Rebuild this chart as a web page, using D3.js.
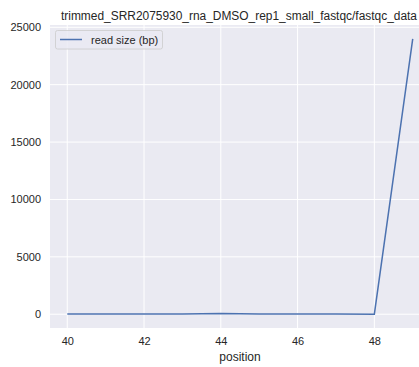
<!DOCTYPE html>
<html>
<head>
<meta charset="utf-8">
<script src="https://cdn.jsdelivr.net/npm/d3@7"></script>
<style>
  body { margin: 0; background: #fff; }
  svg { display: block; font-family: "Liberation Sans", Arial, sans-serif; }
</style>
</head>
<body>
<svg id="canvas"></svg>
<script>
const positions = [40, 41, 42, 43, 44, 45, 46, 47, 48, 49];
const readSize = [10, 12, 15, 25, 70, 20, 12, 10, 8, 24000];
const xTicks = [40, 42, 44, 46, 48];
const yTicks = [0, 5000, 10000, 15000, 20000, 25000];
const TITLE = "trimmed_SRR2075930_rna_DMSO_rep1_small_fastqc/fastqc_data";
const SERIES = "read size (bp)";

const width = 419;
const height = 367;
const paddingLeft = 50;
const plotRight = 430;   // axes run past the window edge, like the reference
const paddingTop = 25;
const plotBottom = 328;

const canvas = d3.select("#canvas")
    .attr("width", width)
    .attr("height", height);

//Scales with matplotlib-like 5% margins
const xScale = d3.scaleLinear()
    .domain([39.55, 49.45])
    .range([paddingLeft, plotRight]);
const yScale = d3.scaleLinear()
    .domain([-1200, 25200])
    .range([plotBottom, paddingTop]);

canvas.append("rect")
    .attr("x", paddingLeft)
    .attr("y", paddingTop)
    .attr("width", plotRight - paddingLeft)
    .attr("height", plotBottom - paddingTop)
    .attr("fill", "#EAEAF2");

//Grid lines
canvas.append("g")
    .selectAll("line")
    .data(xTicks)
    .enter()
    .append("line")
    .attr("x1", d => xScale(d))
    .attr("x2", d => xScale(d))
    .attr("y1", paddingTop)
    .attr("y2", plotBottom)
    .attr("stroke", "#fff")
    .attr("stroke-width", 1);
canvas.append("g")
    .selectAll("line")
    .data(yTicks)
    .enter()
    .append("line")
    .attr("x1", paddingLeft)
    .attr("x2", plotRight)
    .attr("y1", d => yScale(d))
    .attr("y2", d => yScale(d))
    .attr("stroke", "#fff")
    .attr("stroke-width", 1);

//Axes (labels only, seaborn darkgrid has no spines)
const xAxis = d3.axisBottom(xScale).tickValues(xTicks).tickSize(0).tickPadding(9);
const yAxis = d3.axisLeft(yScale).tickValues(yTicks).tickSize(0).tickPadding(9)
    .tickFormat(d3.format("d"));

const gx = canvas.append("g")
    .attr("transform", `translate(0, ${plotBottom})`)
    .call(xAxis);
const gy = canvas.append("g")
    .attr("transform", `translate(${paddingLeft}, 0)`)
    .call(yAxis);
[gx, gy].forEach(g => {
    g.select(".domain").remove();
    g.selectAll("text")
        .attr("fill", "#262626")
        .style("font-size", "11px");
});

//Line
const line = d3.line()
    .x((d, i) => xScale(positions[i]))
    .y(d => yScale(d));

canvas.append("path")
    .datum(readSize)
    .attr("d", line)
    .attr("fill", "none")
    .attr("stroke", "#4C72B0")
    .attr("stroke-width", 1.5);

//Labels
canvas.append("text")
    .attr("x", (paddingLeft + plotRight) / 2)
    .attr("y", 361)
    .attr("text-anchor", "middle")
    .attr("fill", "#262626")
    .style("font-size", "12px")
    .text("position");

canvas.append("text")
    .attr("x", 61)
    .attr("y", 20)
    .attr("fill", "#262626")
    .attr("textLength", 356)
    .attr("lengthAdjust", "spacingAndGlyphs")
    .style("font-size", "12px")
    .text(TITLE);

//Legend
const legend = canvas.append("g");
legend.append("rect")
    .attr("x", 55.5)
    .attr("y", 30.5)
    .attr("width", 107)
    .attr("height", 18.5)
    .attr("rx", 2)
    .attr("fill", "#EAEAF2")
    .attr("fill-opacity", 0.8)
    .attr("stroke", "#CCCCCC")
    .attr("stroke-width", 0.8);
legend.append("line")
    .attr("x1", 60)
    .attr("x2", 82)
    .attr("y1", 39.5)
    .attr("y2", 39.5)
    .attr("stroke", "#4C72B0")
    .attr("stroke-width", 1.5);
legend.append("text")
    .attr("x", 91)
    .attr("y", 43.5)
    .attr("fill", "#262626")
    .style("font-size", "11px")
    .text(SERIES);
</script>
</body>
</html>
